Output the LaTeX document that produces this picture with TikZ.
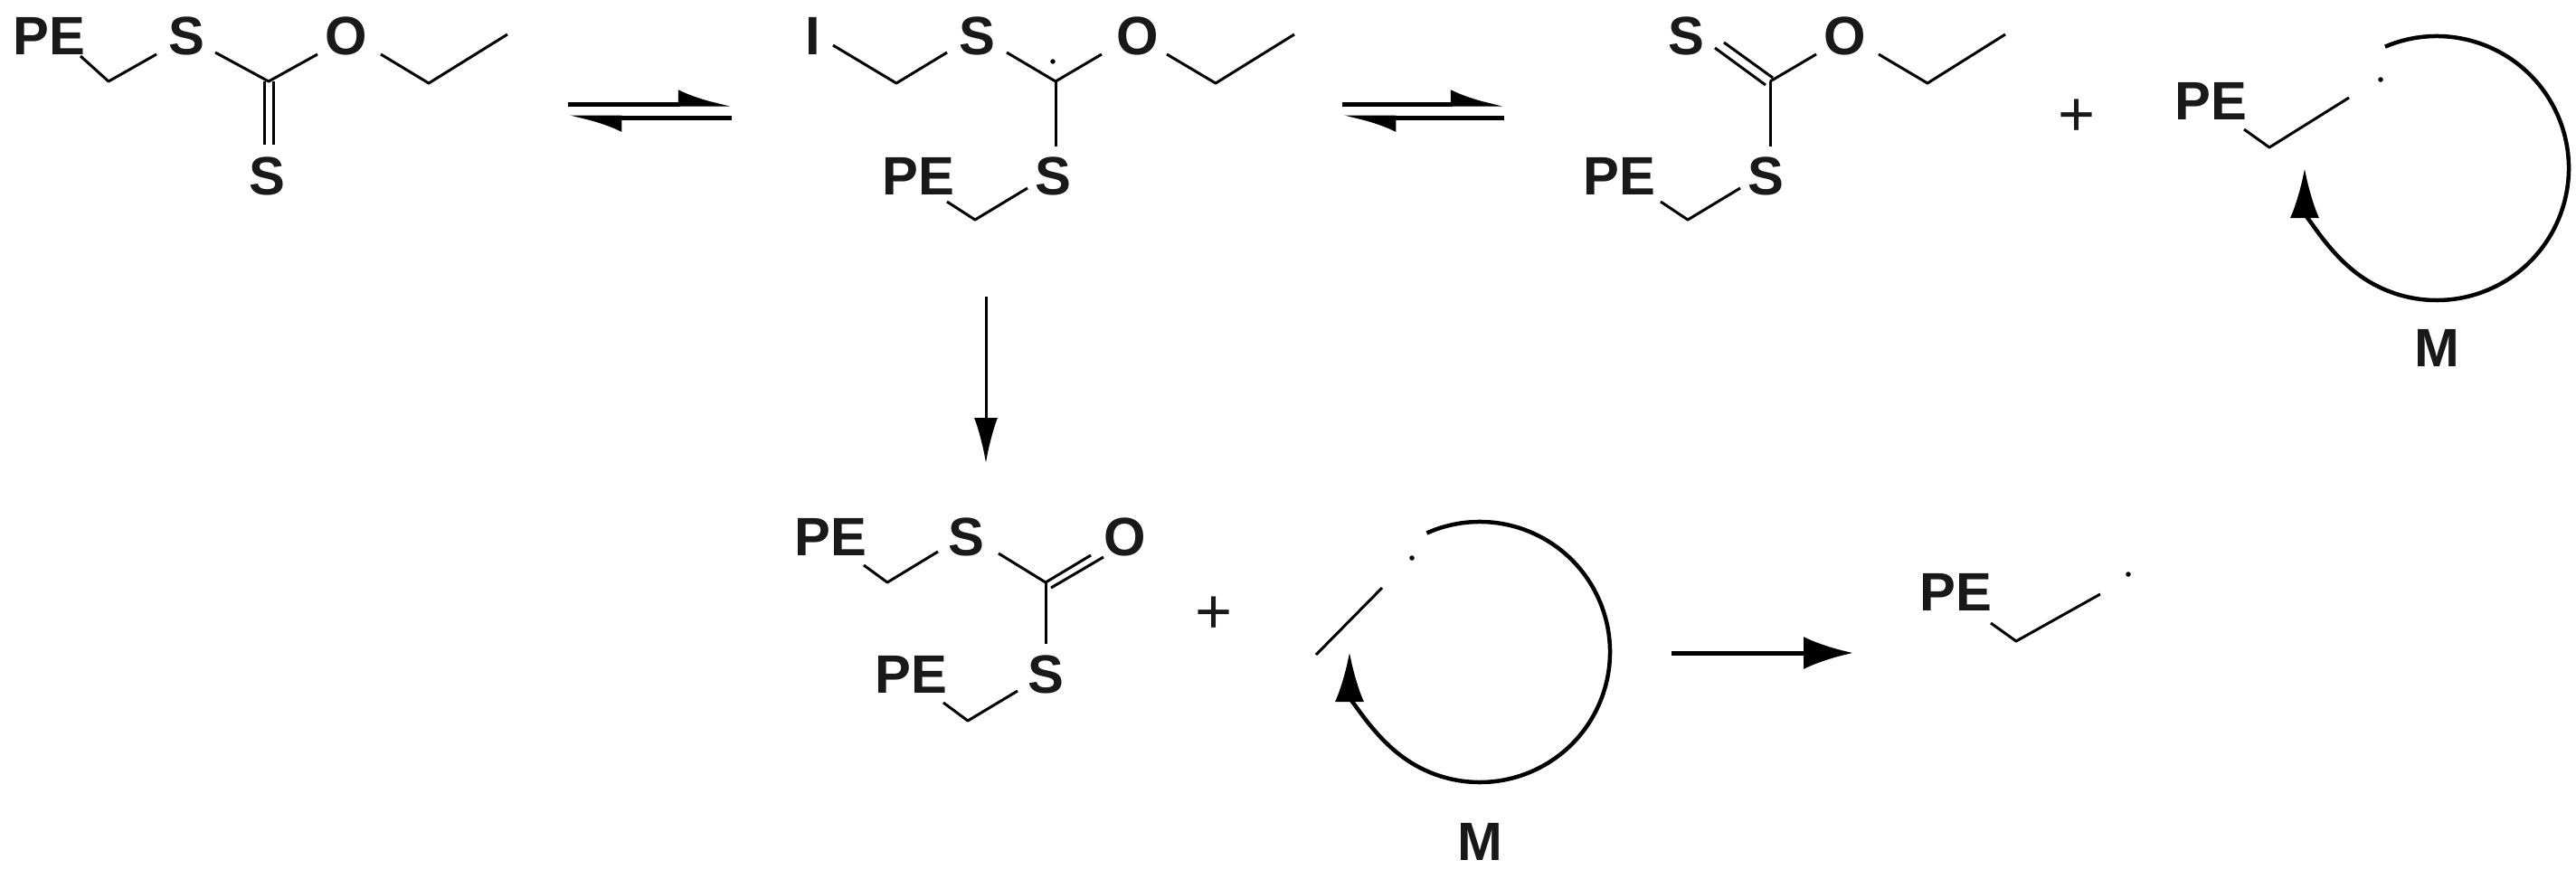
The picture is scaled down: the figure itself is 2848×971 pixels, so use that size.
\documentclass[tikz,border=0pt]{standalone}
\usepackage{fontspec}
\setmainfont{Liberation Sans}
\usetikzlibrary{arrows.meta}
\begin{document}
\begin{tikzpicture}[x=0.1mm,y=-0.1mm,
  atom/.style={font=\fontsize{17}{17}\selectfont\bfseries, inner sep=0pt, text=black!90},
  bond/.style={line width=0.3mm, line join=round},
  rx/.style={line width=0.5mm},
  harp/.style={line width=0.5mm,-{Latex[left,length=4.8mm,width=3.2mm]}},
  loop/.style={line width=0.45mm,-{Latex[length=5.5mm,width=3.2mm]}},
  dotr/.style={fill=black, circle, inner sep=0pt, minimum size=0.55mm}]
\useasboundingbox (0,0) rectangle (2848,971);
% molecule 1
\node[atom] (pe1) at (54,40) {PE};
\node[atom] (s1) at (206,40) {S};
\node[atom] (o1) at (383,40) {O};
\node[atom] (s1b) at (295,195) {S};
\draw[bond] (89,62) -- (120,90) -- (173,60);
\draw[bond] (238,58) -- (297,90) -- (351,60);
\draw[bond] (421,60) -- (474,92) -- (561,38);
\draw[bond] (292,90) -- (292,160) (302,90) -- (302,160);
% eq arrow 1
\draw[harp] (628,115) -- (809,115);
\draw[harp] (809,130) -- (628,130);
% molecule 2
\node[atom] (i2) at (899,40) {I};
\node[atom] (s2) at (1080,40) {S};
\node[atom] (o2) at (1258,40) {O};
\node[atom] (s2b) at (1164,195) {S};
\node[atom] (pe2) at (1015,195) {PE};
\draw[bond] (921,50) -- (991,92) -- (1047,58);
\draw[bond] (1113,58) -- (1167,90) -- (1218,60);
\draw[bond] (1290,60) -- (1344,92) -- (1431,38);
\draw[bond] (1167,90) -- (1167,162);
\draw[bond] (1047,223) -- (1078,243) -- (1136,208);
\node[dotr] (d2) at (1164,68) {};
% down arrow
\coordinate (va) at (1090,328); \coordinate (vb) at (1090,512);
\draw[bond,-{Latex[length=5mm,width=2.6mm]}] (va) -- (vb);
% eq arrow 2
\draw[harp] (1484,115) -- (1663,115);
\draw[harp] (1663,130) -- (1484,130);
% molecule 3
\node[atom] (s3) at (1864,40) {S};
\node[atom] (o3) at (2040,40) {O};
\node[atom] (s3b) at (1952,195) {S};
\node[atom] (pe3) at (1790,195) {PE};
\draw[bond] (1896,53) -- (1952,94) (1906,47) -- (1960,86);
\draw[bond] (1957,90) -- (2008,60);
\draw[bond] (2077,60) -- (2131,92) -- (2217,38);
\draw[bond] (1957,90) -- (1957,162);
\draw[bond] (1836,223) -- (1866,243) -- (1924,208);
\node[atom,font=\fontsize{20}{20}\selectfont] (plus1) at (2296,130) {+};
\node[atom] (pe4) at (2444,112) {PE};
\draw[bond] (2481,143) -- (2509,163) -- (2597,108);
\node[dotr] (d4) at (2632,88) {};
\draw[loop] (2694,186) ++(-113:146) arc[start angle=-113,end angle=180,radius=146];
\node[atom] (m1) at (2694,385) {M};
% bottom
\node[atom] (pe5) at (918,594) {PE};
\node[atom] (s5) at (1068,594) {S};
\node[atom] (o5) at (1244,594) {O};
\node[atom] (s5b) at (1156,746) {S};
\node[atom] (pe6) at (1007,746) {PE};
\draw[bond] (955,625) -- (981,644) -- (1037,610);
\draw[bond] (1104,612) -- (1156,644) -- (1206,614);
\draw[bond] (1162,650) -- (1220,616);
\draw[bond] (1156,644) -- (1156,712);
\draw[bond] (1043,777) -- (1070,797) -- (1125,764);
\node[atom,font=\fontsize{20}{20}\selectfont] (plus2) at (1342,680) {+};
\draw[bond] (1455,724) -- (1528,650);
\node[dotr] (d6) at (1561,617) {};
\draw[loop] (1636,721) ++(-114:144) arc[start angle=-114,end angle=180,radius=144];
\node[atom] (m2) at (1636,931) {M};
\coordinate (ha) at (1848,722); \coordinate (hb) at (2049,722);
\draw[rx,-{Latex[length=5.5mm,width=3.6mm]}] (ha) -- (hb);
\node[atom] (pe7) at (2162,655) {PE};
\draw[bond] (2201,689) -- (2229,709) -- (2322,657);
\node[dotr] (d7) at (2353,635) {};
\end{tikzpicture}
\end{document}
